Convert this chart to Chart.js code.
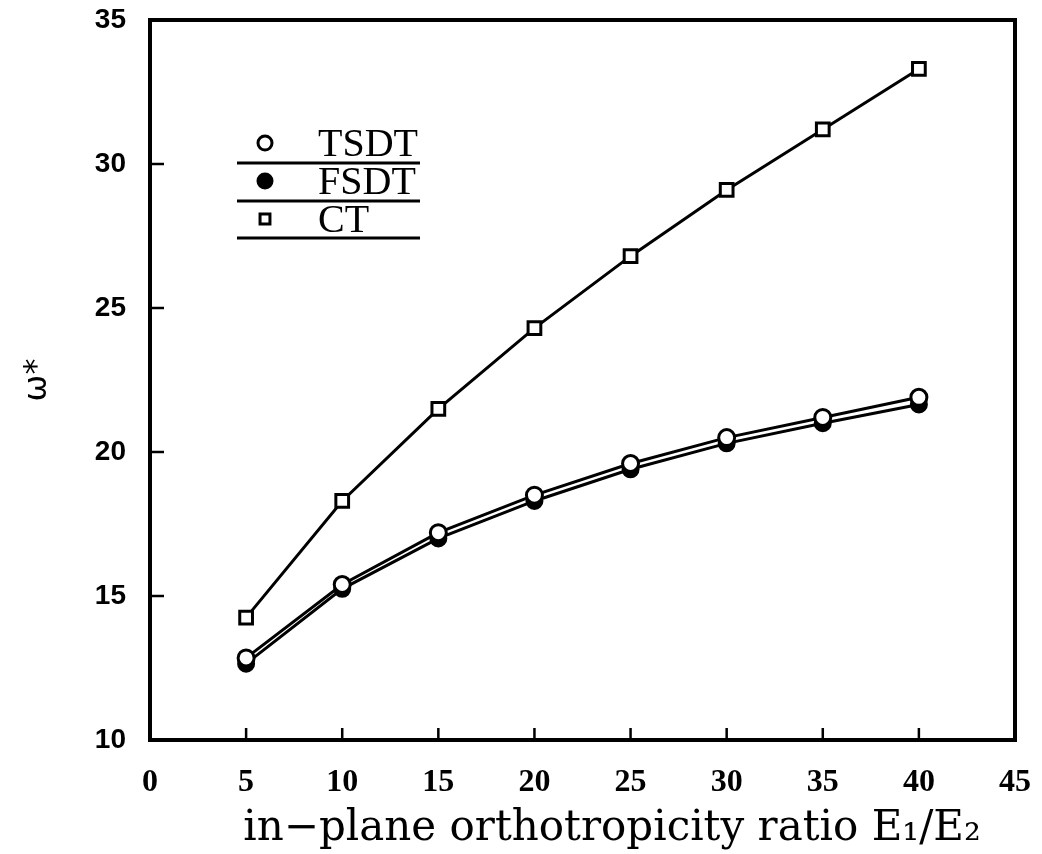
<!DOCTYPE html>
<html>
<head>
<meta charset="utf-8">
<script src="https://cdn.jsdelivr.net/npm/chart.js@4.4.1/dist/chart.umd.min.js"></script>
<style>
  html, body { margin: 0; padding: 0; background: #fff; }
  #wrap { width: 1042px; height: 854px; }
</style>
</head>
<body>
<div id="wrap"><canvas id="chart"></canvas></div>
<script>
// orthotropicity ratio E1/E2 and the three plate theories
var ratios = [5, 10, 15, 20, 25, 30, 35, 40];
var tsdt = [12.85, 15.4, 17.2, 18.5, 19.6, 20.5, 21.2, 21.9];
var fsdt = [12.65, 15.25, 17.0, 18.3, 19.4, 20.3, 21.0, 21.65];
var ct = [14.25, 18.3, 21.5, 24.3, 26.8, 29.1, 31.2, 33.3];

var xTicks = [0, 5, 10, 15, 20, 25, 30, 35, 40, 45];
var yTicks = [10, 15, 20, 25, 30, 35];
var xTitle = 'in\u2212plane orthotropicity ratio E\u2081/E\u2082';

function toPoints(ys) {
    return ratios.map(function (x, i) { return { x: x, y: ys[i] }; });
}

var ink = '#000';

// box round the plot plus inward tick marks
var framePlugin = {
    id: 'frame',
    afterDatasetsDraw: function (chart) {
        var ctx = chart.ctx;
        var a = chart.chartArea;
        var xs = chart.scales.x;
        var ys = chart.scales.y;
        ctx.save();
        ctx.strokeStyle = ink;
        ctx.lineWidth = 4;
        ctx.strokeRect(a.left, a.top, a.right - a.left, a.bottom - a.top);
        ctx.lineWidth = 2.5;
        ctx.beginPath();
        xTicks.forEach(function (v) {
            if (v <= 0 || v >= 45) return;
            var px = xs.getPixelForValue(v);
            ctx.moveTo(px, a.bottom);
            ctx.lineTo(px, a.bottom - 12);
        });
        yTicks.forEach(function (v) {
            if (v <= 10 || v >= 35) return;
            var py = ys.getPixelForValue(v);
            ctx.moveTo(a.left, py);
            ctx.lineTo(a.left + 14, py);
        });
        ctx.stroke();

        // x axis title, sits a little right of centre
        ctx.fillStyle = ink;
        ctx.font = '42px "DejaVu Serif"';
        ctx.textAlign = 'center';
        ctx.textBaseline = 'middle';
        ctx.fillText(xTitle, 612, 829);
        ctx.restore();
    }
};

// legend: marker and name, with a rule under each entry
var legendPlugin = {
    id: 'ruledLegend',
    afterDraw: function (chart) {
        var ctx = chart.ctx;
        var left = 237, right = 420, markX = 265, textX = 318;
        var rows = [
            { label: 'TSDT', ds: 0, y: 143, rule: 163 },
            { label: 'FSDT', ds: 1, y: 181, rule: 201 },
            { label: 'CT', ds: 2, y: 219, rule: 238 }
        ];
        ctx.save();
        rows.forEach(function (r) {
            var d = chart.data.datasets[r.ds];
            ctx.fillStyle = d.pointBackgroundColor;
            ctx.strokeStyle = ink;
            ctx.lineWidth = 3;
            Chart.helpers.drawPoint(ctx, {
                pointStyle: d.pointStyle,
                radius: 7,
                borderWidth: 3,
                rotation: 0
            }, markX, r.y);
            ctx.fillStyle = ink;
            ctx.font = '40px "Liberation Serif"';
            ctx.textBaseline = 'middle';
            ctx.textAlign = 'left';
            ctx.fillText(r.label, textX, r.y + 2);
            ctx.lineWidth = 3;
            ctx.beginPath();
            ctx.moveTo(left, r.rule);
            ctx.lineTo(right, r.rule);
            ctx.stroke();
        });
        ctx.restore();
    }
};

var ctx1 = document.getElementById('chart').getContext('2d');
var myChart = new Chart(ctx1, {
    type: 'line',
    data: {
        datasets: [{
            label: 'TSDT',
            data: toPoints(tsdt),
            borderColor: ink,
            borderWidth: 3,
            pointStyle: 'circle',
            pointRadius: 8,
            pointBorderWidth: 3,
            pointBackgroundColor: '#fff',
            pointBorderColor: ink,
            order: 1
        }, {
            label: 'FSDT',
            data: toPoints(fsdt),
            borderColor: ink,
            borderWidth: 3,
            pointStyle: 'circle',
            pointRadius: 8,
            pointBorderWidth: 2,
            pointBackgroundColor: ink,
            pointBorderColor: ink,
            order: 2
        }, {
            label: 'CT',
            data: toPoints(ct),
            borderColor: ink,
            borderWidth: 3,
            pointStyle: 'rect',
            pointRadius: 9,
            pointBorderWidth: 3,
            pointBackgroundColor: '#fff',
            pointBorderColor: ink,
            order: 3
        }]
    },
    options: {
        responsive: true,
        maintainAspectRatio: false,
        animation: false,
        layout: { padding: { top: 20, right: 27, left: 0, bottom: 0 } },
        plugins: {
            legend: { display: false },
            tooltip: { enabled: false }
        },
        elements: { line: { tension: 0, fill: false } },
        scales: {
            x: {
                type: 'linear',
                min: 0,
                max: 45,
                afterFit: function (s) {
                    s.height = 114;
                    s.paddingLeft = 0;
                    s.paddingRight = 0;
                },
                afterBuildTicks: function (s) {
                    s.ticks = xTicks.map(function (v) { return { value: v }; });
                },
                grid: { drawOnChartArea: false, drawTicks: false },
                border: { display: false },
                ticks: {
                    color: ink,
                    padding: 24,
                    maxRotation: 0,
                    font: { family: '"Liberation Serif"', size: 32, weight: 'bold' }
                }
            },
            y: {
                min: 10,
                max: 35,
                afterFit: function (s) {
                    s.width = 150;
                    s.paddingTop = 0;
                    s.paddingBottom = 0;
                },
                afterBuildTicks: function (s) {
                    s.ticks = yTicks.map(function (v) { return { value: v }; });
                },
                grid: { drawOnChartArea: false, drawTicks: false },
                border: { display: false },
                ticks: {
                    color: ink,
                    padding: 24,
                    font: { family: '"Liberation Sans"', size: 28, weight: 'bold' }
                },
                title: {
                    display: true,
                    text: '\u03c9*',
                    color: ink,
                    padding: { top: 18, bottom: 0 },
                    font: { family: '"DejaVu Sans"', size: 32 }
                }
            }
        }
    },
    plugins: [framePlugin, legendPlugin]
});
</script>
</body>
</html>
